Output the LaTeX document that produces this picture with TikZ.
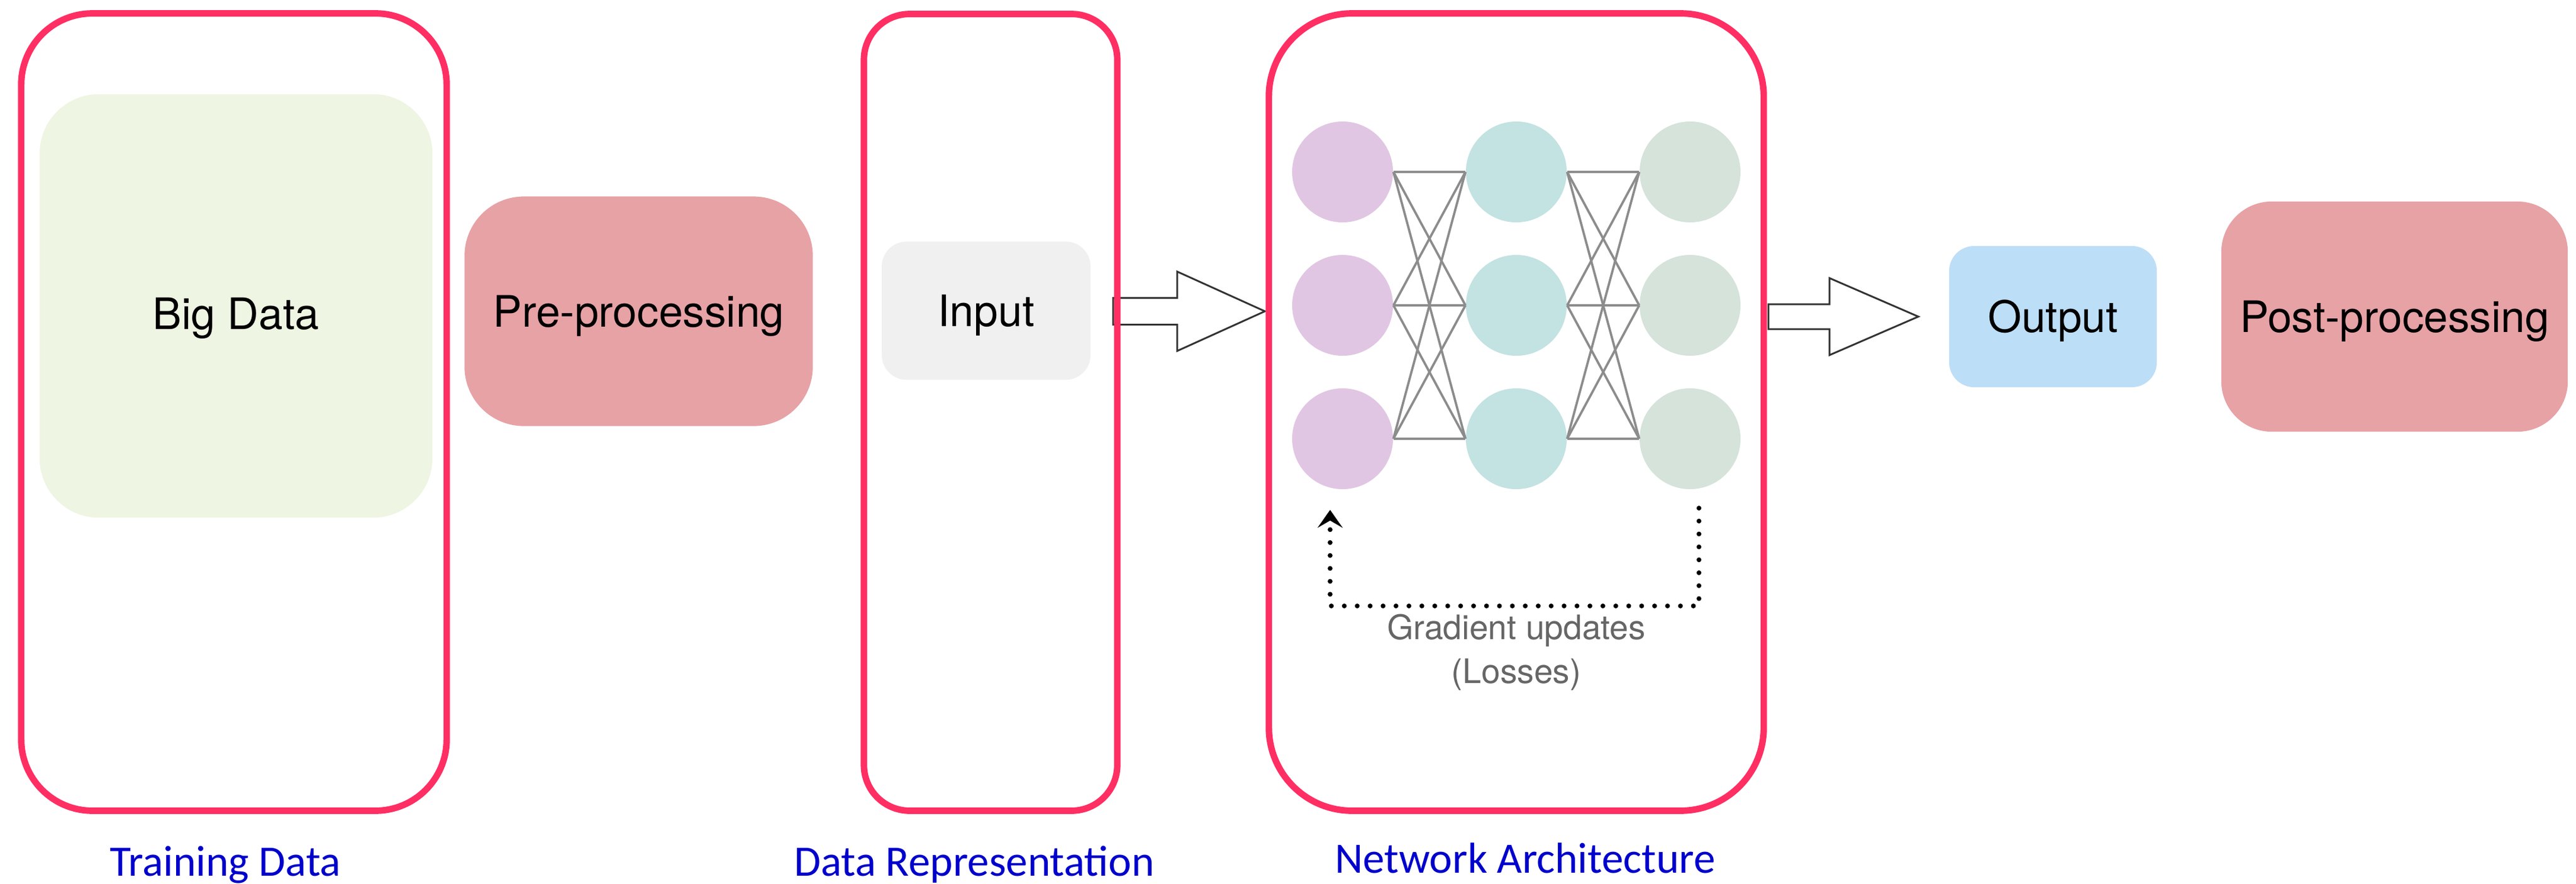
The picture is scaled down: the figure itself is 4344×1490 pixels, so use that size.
\documentclass[tikz,border=0pt]{standalone}
\usepackage{fontspec}
\setmainfont{TeX Gyre Heros}
\newfontfamily\capfont{Carlito}
\usetikzlibrary{arrows.meta}

\definecolor{stagepink}{RGB}{255,46,99}
\definecolor{datagreen}{RGB}{238,245,227}
\definecolor{procred}{RGB}{231,162,166}
\definecolor{inputgray}{RGB}{240,240,240}
\definecolor{outputblue}{RGB}{189,222,247}
\definecolor{neuA}{RGB}{225,198,227}
\definecolor{neuB}{RGB}{195,226,226}
\definecolor{neuC}{RGB}{213,227,218}
\definecolor{capblue}{RGB}{0,0,204}

\tikzset{
	stage/.style={draw=stagepink, line width=3.1pt, rounded corners=#1, inner sep=0pt},
	stage/.default=1cm,
	block/.style={rounded corners=#1, inner sep=0pt, text height=15pt, text depth=0pt,
		font=\fontsize{20.8pt}{25pt}\selectfont},
	block/.default=1cm,
	neuron/.style={circle, minimum size=1.7cm, inner sep=0pt},
	synapse/.style={draw=black!45, line width=1.1pt},
	hollow/.style={draw=black!80, line width=0.85pt, fill=white, line join=miter},
	lossline/.style={line width=2.3pt, dash pattern=on 0pt off 6.2pt, line cap=round,
		-{Stealth[length=0.3cm, width=0.42cm, inset=0.12cm]}},
	caption/.style={text=capblue, anchor=base, inner sep=0pt,
		font=\capfont\fontsize{20.8pt}{25pt}\selectfont},
}

\begin{document}
\begin{tikzpicture}[x=0.01cm, y=-0.01cm]
\useasboundingbox (0,0) rectangle (4344,1490);

% inner blocks
\node[block=1cm, fill=datagreen, minimum width=6.62cm, minimum height=7.14cm, text height=22.5pt] (bigdata) at (398,516) {Big Data};
\node[block=1cm, fill=procred, minimum width=5.87cm, minimum height=3.87cm] (prep) at (1077,525) {Pre-processing};
\node[block=0.42cm, fill=inputgray, minimum width=3.52cm, minimum height=2.33cm] (input) at (1663,524) {Input};
\node[block=0.42cm, fill=outputblue, minimum width=3.50cm, minimum height=2.38cm] (output) at (3462,534) {Output};
\node[block=0.85cm, fill=procred, minimum width=5.84cm, minimum height=3.88cm] (post) at (4038,534) {Post-processing};

% network
\foreach \c/\x/\col in {1/2264/neuA, 2/2557/neuB, 3/2850/neuC} {
	\foreach \r/\y in {1/290, 2/515, 3/740} {
		\node[neuron, fill=\col] (n\c\r) at (\x, \y) {};
	}
}
\foreach \a/\b in {1/2, 2/3} {
	\foreach \i in {1, 2, 3} {
		\foreach \j in {1, 2, 3} {
			\draw[synapse] (n\a\i.east) -- (n\b\j.west);
		}
	}
}

% gradient loop
\coordinate (lossR) at (2865, 857);
\coordinate (lossL) at (2243, 860);
\draw[lossline] (lossR) -- ++(0, 165) -| (lossL);
\node[text=black!60, align=center, inner sep=0pt,
	font=\fontsize{16.2pt}{21pt}\selectfont] (grad) at (2557, 1100) {Gradient updates\\(Losses)};

% hollow arrows
\coordinate (inArrow) at (1877, 525);
\draw[hollow] (inArrow) ++(0, -22.5) -- ++(108, 0) -- ++(0, -44.5) -- ++(148, 67)
	-- ++(-148, 67) -- ++(0, -44.5) -- ++(-108, 0) -- cycle;
\coordinate (outArrow) at (2982, 534);
\draw[hollow] (outArrow) ++(0, -21) -- ++(103, 0) -- ++(0, -44) -- ++(150, 65)
	-- ++(-150, 65) -- ++(0, -44) -- ++(-103, 0) -- cycle;

% stages
\node[stage=1.2cm, minimum width=7.17cm, minimum height=13.44cm] (train) at (394.5, 695) {};
\node[stage=0.77cm, minimum width=4.27cm, minimum height=13.43cm] (rep) at (1670.5, 695.5) {};
\node[stage=1.4cm, minimum width=8.34cm, minimum height=13.44cm] (net) at (2557, 695) {};

\node[caption] (capTrain) at (380, 1477) {Training Data};
\node[caption] (capRep) at (1643, 1477) {Data Representation};
\node[caption] (capNet) at (2572, 1472) {Network Architecture};
\end{tikzpicture}
\end{document}
